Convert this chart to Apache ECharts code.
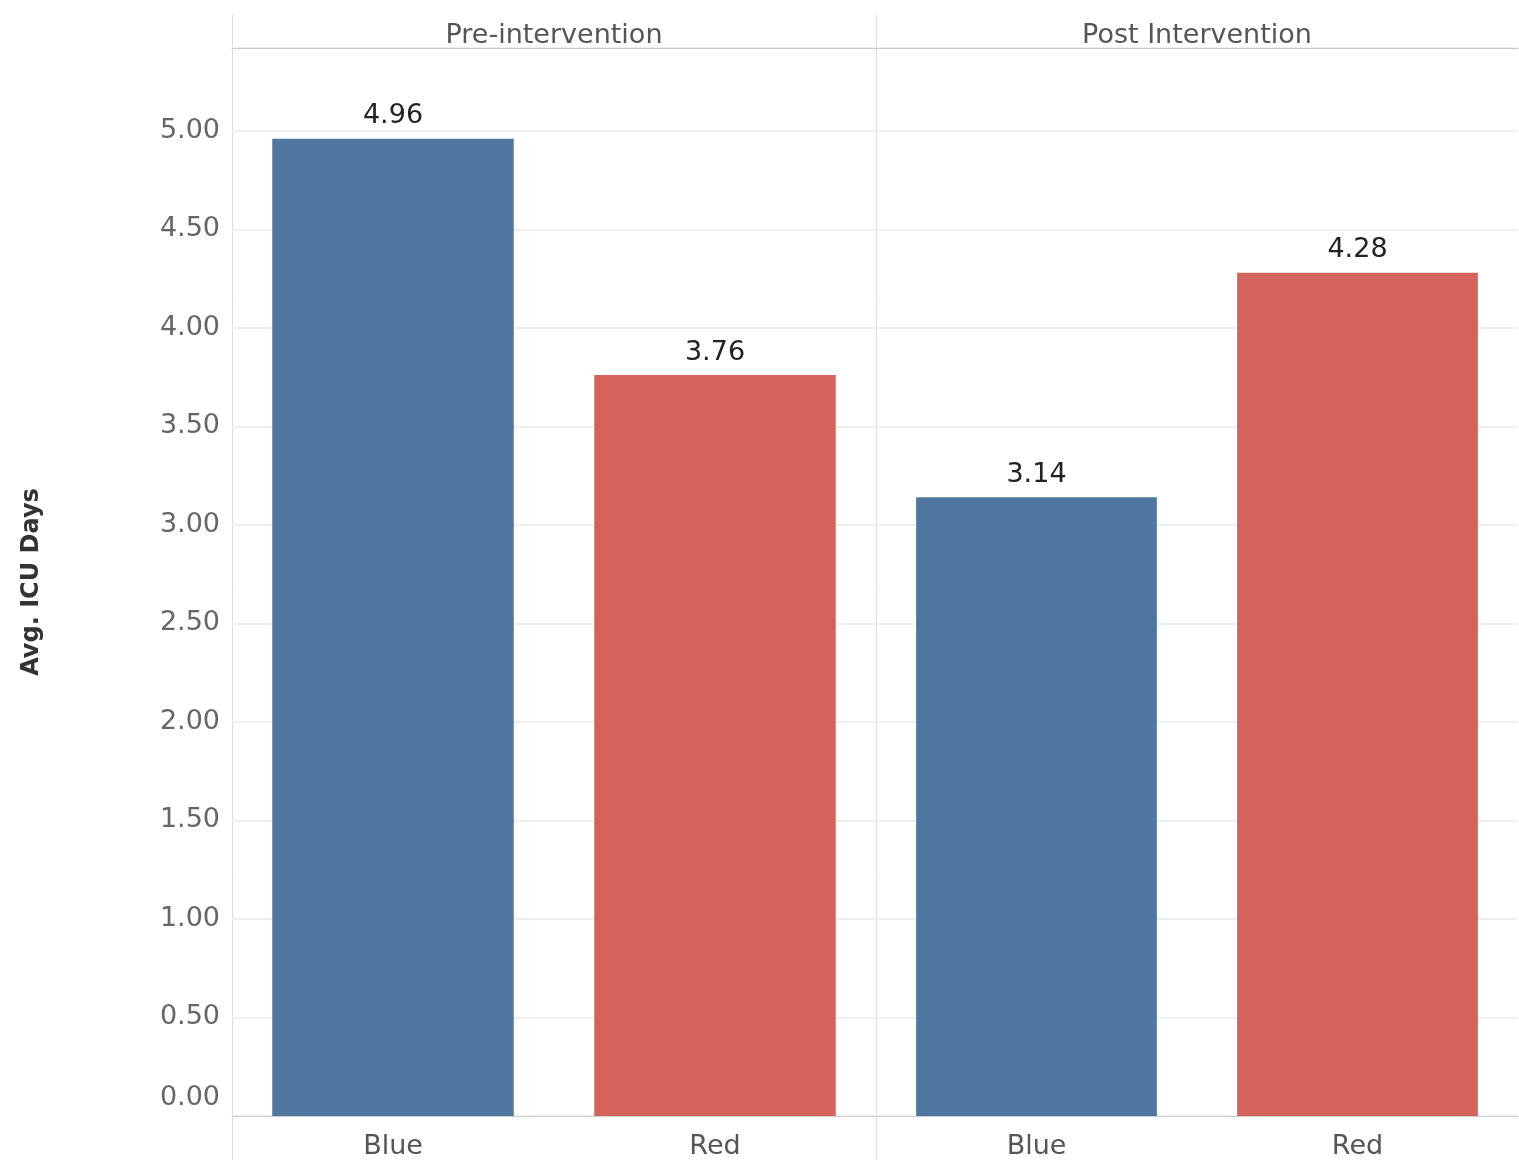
<!DOCTYPE html>
<html>
<head>
<meta charset="utf-8">
<script src="https://cdn.jsdelivr.net/npm/echarts@6/dist/echarts.min.js"></script>
<style>
  html, body { margin: 0; padding: 0; background: #ffffff; }
  #chart { width: 1519px; height: 1160px; }
</style>
</head>
<body>
<div id="chart"></div>
<script>
// Panels (column headers) and the colour groups inside each panel
const panels = ['Pre-intervention', 'Post Intervention'];
const groups = ['Blue', 'Red'];
// Average ICU days per group, one array per panel
const preValues = [4.96, 3.76];
const postValues = [3.14, 4.28];
const panelValues = [preValues, postValues];
// Value axis range and step
const yMin = 0;
const yMax = 5.42;
const yStep = 0.5;

const groupColors = { Blue: '#4f769e', Red: '#d4635b' };
const FONT = '"DejaVu Sans", "Noto Sans", sans-serif';

const chart = echarts.init(document.getElementById('chart'));

const grids = [
  { left: 232, width: 644, top: 48, bottom: 44 },
  { left: 876, width: 642, top: 48, bottom: 44 }
];

const xAxes = [];
const yAxes = [];
const series = [];

panels.forEach((panel, i) => {
  // bottom category axis
  xAxes.push({
    type: 'category',
    gridIndex: i,
    data: groups,
    position: 'bottom',
    axisLine: { show: true, lineStyle: { color: '#cfcfcf', width: 1 } },
    axisTick: { show: false },
    axisLabel: { color: '#555', fontSize: 27, fontFamily: FONT, margin: 17 }
  });
  // top axis carrying the panel header
  xAxes.push({
    type: 'category',
    gridIndex: i,
    data: [panel],
    position: 'top',
    axisLine: { show: true, lineStyle: { color: '#c8c8c8', width: 1 } },
    axisTick: { show: false },
    axisLabel: { color: '#555', fontSize: 27, fontFamily: FONT, margin: -1 }
  });
  yAxes.push({
    type: 'value',
    gridIndex: i,
    min: yMin,
    max: yMax,
    interval: yStep,
    axisLine: { show: false },
    axisTick: { show: false },
    splitLine: { show: true, lineStyle: { color: '#efefef', width: 2 } },
    axisLabel: i === 0 ? {
      show: true,
      showMaxLabel: false,
      color: '#666',
      fontSize: 27,
      fontFamily: FONT,
      margin: 12,
      formatter: v => v === 0 ? '{z|' + v.toFixed(2) + '}' : v.toFixed(2),
      rich: { z: { fontSize: 27, fontFamily: FONT, color: '#666', padding: [0, 0, 36, 0] } }
    } : { show: false },
    name: i === 0 ? 'Avg. ICU Days' : '',
    nameLocation: 'middle',
    nameGap: 188,
    nameTextStyle: { color: '#333', fontSize: 24, fontWeight: 'bold', fontFamily: FONT }
  });
  series.push({
    type: 'bar',
    xAxisIndex: i * 2,
    yAxisIndex: i,
    barWidth: '75%',
    data: panelValues[i].map((v, k) => ({
      value: v,
      itemStyle: { color: groupColors[groups[k]] }
    })),
    label: {
      show: true,
      position: 'top',
      distance: 9,
      color: '#222',
      fontSize: 27,
      fontFamily: FONT,
      formatter: p => p.value.toFixed(2)
    }
  });
});

chart.setOption({
  animation: false,
  backgroundColor: '#ffffff',
  grid: grids,
  xAxis: xAxes,
  yAxis: yAxes,
  series: series,
  graphic: [
    // panel frame lines
    { type: 'line', shape: { x1: 232.5, y1: 15, x2: 232.5, y2: 1160 }, style: { stroke: '#dcdcdc', lineWidth: 1 } },
    { type: 'line', shape: { x1: 876.5, y1: 15, x2: 876.5, y2: 1160 }, style: { stroke: '#dcdcdc', lineWidth: 1 } }
  ]
});
</script>
</body>
</html>
